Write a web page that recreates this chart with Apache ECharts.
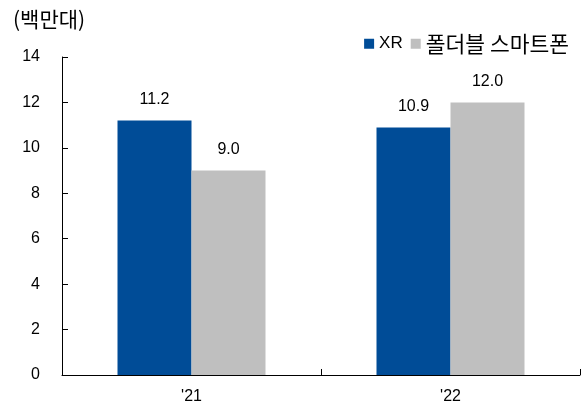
<!DOCTYPE html>
<html><head><meta charset="utf-8">
<script src="https://cdn.jsdelivr.net/npm/echarts@6/dist/echarts.min.js"></script>
<style>html,body{margin:0;padding:0;background:#fff}#c{width:584px;height:405px}</style>
</head><body><div id="c"></div>
<script>
const categories = ["'21", "'22"];
const xrValues = [11.2, 10.9];
const foldValues = [9.0, 12.0];
const seriesNames = ["XR", "폴더블 스마트폰"];
const unitLabel = "(백만대)";
const FONT = "'Liberation Sans', Arial, 'Noto Sans CJK KR', sans-serif";
const KFONT = "'Noto Sans CJK KR', sans-serif";
const chart = echarts.init(document.getElementById('c'));
chart.setOption({
  animation: false,
  textStyle: {fontFamily: FONT},
  grid: {left: 62, right: 4, top: 57, bottom: 30, containLabel: false},
  title: {text: unitLabel, left: 8, top: 4, textStyle: {fontFamily: KFONT, fontSize: 21, fontWeight: 'normal', color: '#000'}},
  legend: {
    right: 10, top: 28, itemWidth: 10, itemHeight: 10, itemGap: 8,
    icon: 'rect',
    formatter: n => /[가-힣]/.test(n) ? '{k|' + n + '}' : '{e|' + n + '}',
    textStyle: {color: '#000', padding: [0,0,0,0],
      rich: {
        e: {fontFamily: FONT, fontSize: 17, color: '#000'},
        k: {fontFamily: KFONT, fontSize: 21.5, color: '#000'}
      }},
    data: seriesNames
  },
  xAxis: {
    type: 'category', data: categories,
    axisLine: {lineStyle: {color: '#000', width: 1}},
    axisTick: {show: true, inside: true, length: 6, alignWithLabel: false, lineStyle: {color: '#000'}},
    axisLabel: {color: '#000', fontSize: 16, fontFamily: FONT, margin: 14}
  },
  yAxis: {
    type: 'value', min: 0, max: 14, interval: 2,
    splitLine: {show: false},
    axisLine: {show: true, lineStyle: {color: '#000', width: 1}},
    axisTick: {show: true, inside: true, length: 6, lineStyle: {color: '#000'}},
    axisLabel: {color: '#000', fontSize: 16, fontFamily: FONT, margin: 22}
  },
  series: [
    {name: seriesNames[0], type: 'bar', data: xrValues, barWidth: 74, barGap: '0%',
     itemStyle: {color: '#004C97'},
     label: {show: true, position: 'top', distance: 13, color: '#000', fontSize: 16, fontFamily: FONT, formatter: p => p.value.toFixed(1)}},
    {name: seriesNames[1], type: 'bar', data: foldValues, barWidth: 74, barGap: '0%',
     itemStyle: {color: '#BFBFBF'},
     label: {show: true, position: 'top', distance: 13, color: '#000', fontSize: 16, fontFamily: FONT, formatter: p => p.value.toFixed(1)}}
  ]
});
</script></body></html>
